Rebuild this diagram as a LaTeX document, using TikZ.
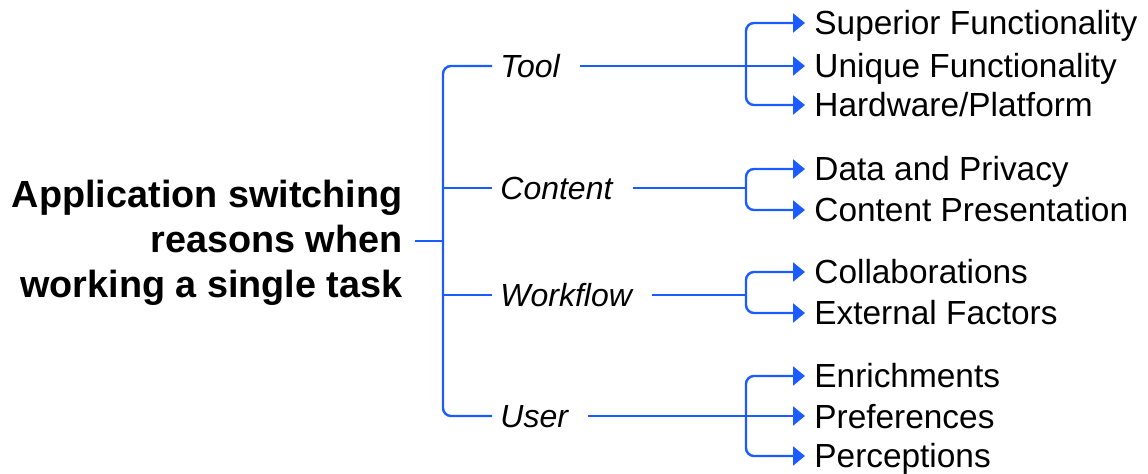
\documentclass[tikz,border=0pt]{standalone}
\usepackage{fontspec}
\setmainfont{Liberation Sans}
\usetikzlibrary{arrows.meta,calc}
\definecolor{linkblue}{HTML}{1A5CFF}
\begin{document}
\begin{tikzpicture}[x=0.5pt,y=-0.5pt,
  link/.style={draw=linkblue,line width=1.2pt,rounded corners=4pt},
  tip/.style={-{Triangle[length=6pt,width=9.5pt]}},
  leaf/.style={anchor=west,inner sep=0pt,font=\fontsize{16.7}{20}\selectfont,text height=12pt,text depth=0pt},
  cat/.style={anchor=west,inner sep=0pt,font=\fontsize{16}{19}\selectfont\itshape,text height=11.5pt,text depth=0pt},
]
\useasboundingbox (0,0) rectangle (1148,474);

% root
\node[anchor=east,align=right,inner sep=0pt,
      font=\fontsize{18.9}{22.5}\selectfont\bfseries] (title) at (403,243)
  {Application switching\\reasons when\\working a single task};

% categories
\node[cat] (tool)     at (500,66)  {Tool};
\node[cat] (content)  at (500,188) {Content};
\node[cat] (workflow) at (500,295) {Workflow};
\node[cat] (user)     at (500,416) {User};

% leaves
\node[leaf] (sup)  at (814,23)  {Superior Functionality};
\node[leaf] (uniq) at (814,66)  {Unique Functionality};
\node[leaf] (hw)   at (814,105) {Hardware/Platform};
\node[leaf] (data) at (814,169) {Data and Privacy};
\node[leaf] (pres) at (814,210) {Content Presentation};
\node[leaf] (coll) at (814,272) {Collaborations};
\node[leaf] (ext)  at (814,313) {External Factors};
\node[leaf] (enr)  at (814,376) {Enrichments};
\node[leaf] (pref) at (814,417) {Preferences};
\node[leaf] (perc) at (814,456) {Perceptions};

% left spine
\coordinate (spine) at (443,241);
\draw[link] ([xshift=-4pt]tool.west) -| (spine) |- ([xshift=-4pt]user.west);
\draw[link] ([xshift=6pt]title.east |- spine) -- (spine);
\draw[link] ([xshift=-4pt]content.west) -- (content.west -| spine);
\draw[link] ([xshift=-4pt]workflow.west) -- (workflow.west -| spine);

% right forks
\coordinate (fx) at (746,0);
% Tool
\draw[link,tip] ([xshift=10pt]tool.east) -- ([xshift=-4.5pt]uniq.west);
\draw[link,tip] (tool.east -| fx) |- ([xshift=-4.5pt]sup.west);
\draw[link,tip] (tool.east -| fx) |- ([xshift=-4.5pt]hw.west);
% Content
\draw[link] ([xshift=10pt]content.east) -- (content.east -| fx);
\draw[link,tip] (content.east -| fx) |- ([xshift=-4.5pt]data.west);
\draw[link,tip] (content.east -| fx) |- ([xshift=-4.5pt]pres.west);
% Workflow
\draw[link] ([xshift=10pt]workflow.east) -- (workflow.east -| fx);
\draw[link,tip] (workflow.east -| fx) |- ([xshift=-4.5pt]coll.west);
\draw[link,tip] (workflow.east -| fx) |- ([xshift=-4.5pt]ext.west);
% User
\draw[link,tip] ([xshift=10pt]user.east) -- ([xshift=-4.5pt]user.east -| pref.west);
\draw[link,tip] (user.east -| fx) |- ([xshift=-4.5pt]enr.west);
\draw[link,tip] (user.east -| fx) |- ([xshift=-4.5pt]perc.west);
\end{tikzpicture}
\end{document}
